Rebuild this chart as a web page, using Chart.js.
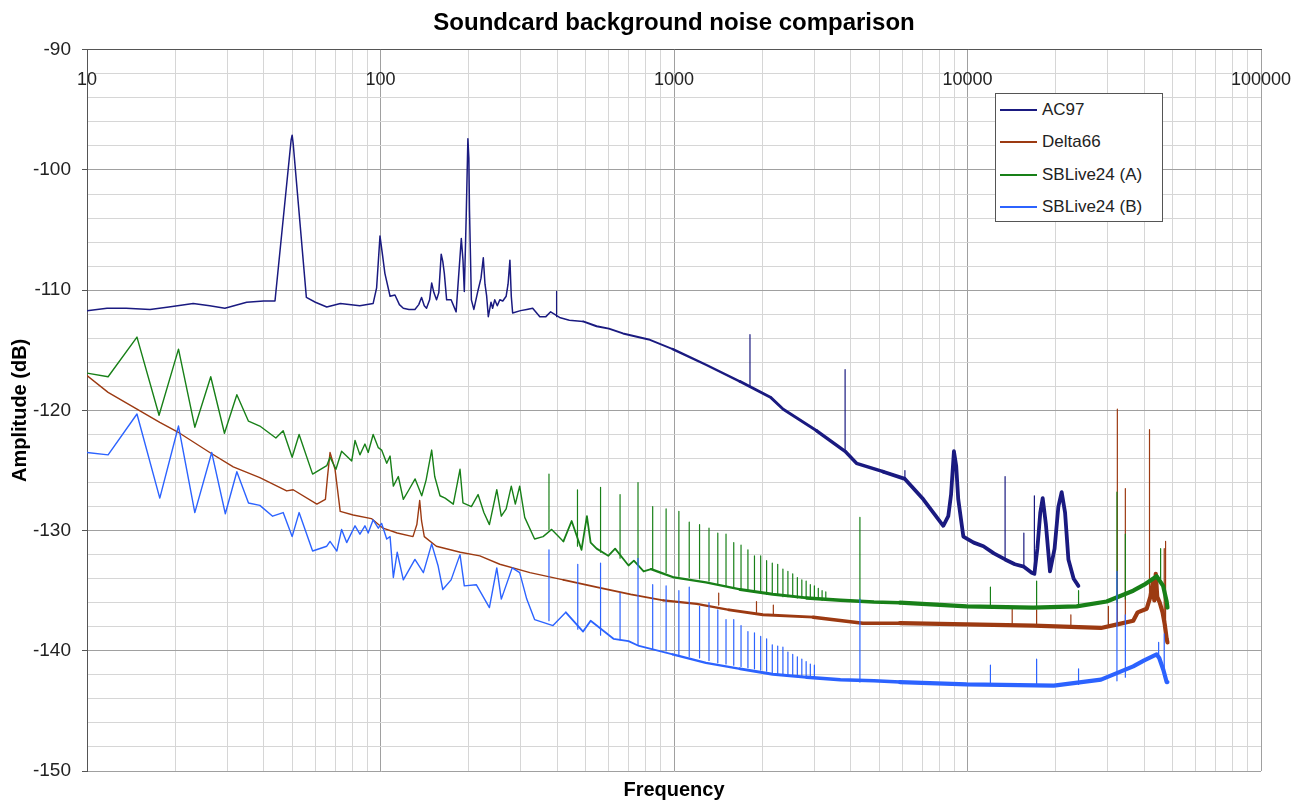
<!DOCTYPE html>
<html>
<head>
<meta charset="utf-8">
<title>Soundcard background noise comparison</title>
<script src="https://cdn.jsdelivr.net/npm/chart.js@4.4.1/dist/chart.umd.min.js"></script>
<style>
  body { margin: 0; background: #fff; }
  #wrap { position: relative; width: 1306px; height: 802px; }
  #legend {
    position: absolute; left: 995px; top: 93px; width: 168px; height: 129px;
    box-sizing: border-box; border: 1px solid #555; background: #fff;
    font: 17px 'Liberation Sans', Arial, sans-serif; color: #222;
  }
  .item { position: absolute; left: 0; height: 20px; line-height: 20px; white-space: nowrap; }
  .swatch { position: absolute; left: 4px; top: 9px; width: 37px; height: 2px; }
  .text { position: absolute; left: 46px; top: 0; }
</style>
</head>
<body>
<div id="wrap">
  <canvas id="chart" width="1306" height="802"></canvas>
  <div id="legend"></div>
</div>
<script>
'use strict';

// axis ticks
const X_GRID = [10, 20, 30, 40, 50, 60, 70, 80, 90,
  100, 200, 300, 400, 500, 600, 700, 800, 900,
  1000, 2000, 3000, 4000, 5000, 6000, 7000, 8000, 9000,
  10000, 20000, 30000, 40000, 50000, 60000, 70000, 80000, 90000, 100000];
const X_LABELS = [10, 100, 1000, 10000, 100000];
const Y_LABELS = [-150, -140, -130, -120, -110, -100, -90];

const SERIES_NAMES = ['AC97', 'Delta66', 'SBLive24 (A)', 'SBLive24 (B)'];

// [frequency Hz, amplitude dB]
const AC97 = [
  [10, -111.7], [11.7, -111.5], [13.6, -111.5], [16.4, -111.6], [19, -111.4], [23, -111.1],
  [26.2, -111.3], [29.5, -111.5], [35, -111.0], [40, -110.9], [43.7, -110.9], [49.6, -97.5],
  [50, -97.1], [50.4, -97.8], [55.9, -110.6], [60, -111.0], [65.6, -111.4], [73, -111.1],
  [85, -111.3], [94.4, -111.1], [97, -109.8], [99.6, -105.5], [101.5, -107.0], [103.5, -108.6],
  [107.8, -110.5], [112, -110.4], [116, -111.2], [119.6, -111.5], [125, -111.6], [131, -111.6],
  [135, -111.2], [138, -110.6], [141, -111.3], [143.5, -111.5], [147, -110.8], [149.4, -109.4],
  [152, -110.2], [155.2, -110.8], [158, -110.2], [161, -107.0], [163, -107.6], [165, -108.6],
  [168, -110.8], [174, -110.8], [181, -111.8], [185, -108.5], [188.5, -105.7], [191, -107.5],
  [193, -110.1], [196, -103.6], [198.5, -97.4], [200, -99.0], [201, -103.3], [204, -110.8],
  [208, -111.6], [215, -110.0], [220, -109.0], [224, -107.3], [227, -109.5], [230, -110.5],
  [233, -112.2], [238, -111.0], [241, -111.5], [245, -110.8], [250, -111.3], [255, -110.8],
  [261, -110.9], [268, -110.5], [272, -109.5], [276, -107.5], [279, -110.5], [282, -111.9],
  [300, -111.7], [315, -111.6], [330, -111.5], [349, -112.2], [366, -112.2], [380, -111.8],
  [410, -112.3], [440, -112.5], [490, -112.6], [545, -113.0], [600, -113.2], [670, -113.6],
  [820, -114.1], [990, -114.9], [1285, -116.2], [1680, -117.6], [2130, -118.9], [2356, -119.9],
  [3063, -121.7], [3828, -123.4], [4186, -124.4], [5162, -125.1], [6120, -125.7], [7070, -127.4],
  [8270, -129.6], [8600, -128.8], [8790, -127.0], [8990, -123.4], [9150, -124.6], [9300, -127.4],
  [9680, -130.5], [10500, -131.0], [11330, -131.3], [12300, -131.9], [13430, -132.4], [14500, -132.8],
  [15560, -133.0], [16550, -133.5], [16900, -133.6], [17300, -131.5], [17700, -128.5], [18040, -127.3],
  [18500, -129.5], [19100, -133.4], [19800, -131.5], [20400, -128.0], [20930, -126.8], [21500, -128.5],
  [22070, -132.4], [23000, -134.0], [23870, -134.6]
];

const DELTA66 = [
  [10, -117.1], [11.8, -118.5], [14.8, -119.9], [17.7, -121.0], [20.7, -121.9], [26.2, -123.5],
  [31.5, -124.7], [38.8, -125.6], [47.9, -126.7], [50.4, -126.6], [60.7, -127.8], [64.9, -127.4],
  [66, -125.5], [67.3, -123.5], [70, -124.9], [72.9, -128.4], [80.7, -128.7], [93.1, -129.0],
  [102, -129.8], [114, -130.2], [129, -130.5], [133, -129.5], [136, -127.5], [138, -129.2],
  [141, -130.5], [155, -131.3], [187, -131.8], [218, -132.1], [255, -132.8], [323, -133.5],
  [420, -134.1], [545, -134.7], [712, -135.3], [920, -135.8], [1195, -136.1], [1540, -136.6],
  [2010, -137.0], [2980, -137.2], [4400, -137.7], [5890, -137.7], [9930, -137.8], [16750, -137.9],
  [28500, -138.1], [32400, -137.8], [36700, -137.5], [38000, -136.8], [40800, -136.5], [42000, -135.5],
  [42800, -134.3], [43300, -135.8], [43800, -133.6], [44300, -135.5], [45200, -136.0], [46200, -136.8],
  [47000, -137.8], [47700, -139.0], [48000, -139.3]
];

const SBLIVE_A = [
  [10, -116.9], [11.8, -117.2], [14.8, -113.9], [17.6, -120.4], [20.5, -114.9], [23.3, -121.4],
  [26.4, -117.2], [29.4, -121.9], [32.4, -118.7], [35.5, -120.9], [38.8, -121.3], [44.0, -122.3],
  [46.6, -121.7], [50.0, -123.9], [52.8, -122.0], [58.7, -125.3], [65.6, -124.6], [67.3, -123.9],
  [70.5, -124.9], [73.7, -123.4], [79.8, -124.2], [81.9, -122.5], [85.1, -123.7], [88.5, -122.8],
  [90.8, -123.5], [94.4, -122.0], [98.3, -123.1], [100.9, -123.3], [105, -124.4], [107.8, -123.8],
  [110.6, -126.3], [115, -125.5], [119.6, -127.4], [125, -126.6], [131.2, -125.7], [138.2, -127.1],
  [143, -125.8], [149.4, -123.3], [153, -125.5], [159.5, -127.1], [166, -127.3], [177, -127.8],
  [186.6, -124.9], [191, -127.7], [204, -128.0], [215, -127.0], [225, -128.5], [235, -129.5],
  [249, -126.6], [258, -128.8], [268, -128.2], [279, -126.3], [288, -127.8], [298, -126.3],
  [310, -128.9], [335, -130.7], [358, -130.5], [383, -129.9], [420, -130.9], [448, -129.2],
  [484, -131.6], [505, -128.8], [520, -131.0], [545, -131.5], [597, -132.1], [630, -131.5],
  [700, -132.9], [730, -132.5], [788, -133.4], [835, -133.2], [900, -133.5], [1000, -133.9],
  [1285, -134.3], [1680, -134.9], [2170, -135.3], [2830, -135.6], [3690, -135.8], [4800, -135.95],
  [5890, -136.0], [9930, -136.3], [16750, -136.4], [23550, -136.3], [29800, -135.9], [36700, -135.0],
  [40000, -134.5], [44100, -133.8], [46400, -134.6], [47700, -135.9], [48000, -136.4]
];

const SBLIVE_B = [
  [10, -123.5], [11.8, -123.7], [14.8, -120.3], [17.7, -127.3], [20.5, -121.3], [23.3, -128.5],
  [26.6, -123.5], [29.6, -128.6], [32.4, -125.1], [35.5, -127.7], [38.8, -127.9], [42.9, -128.8],
  [46.6, -128.5], [50.0, -130.5], [52.8, -128.5], [58.7, -131.7], [65.6, -131.3], [67.3, -130.9],
  [71, -131.7], [73.7, -129.9], [76.7, -131.0], [81.9, -129.6], [85.1, -130.3], [88.5, -129.6],
  [90.8, -130.2], [94.4, -129.1], [98.3, -129.8], [100.9, -129.4], [105, -130.7], [107.8, -130.5],
  [110.6, -133.9], [114, -131.8], [119.6, -134.1], [131, -132.4], [140, -133.5], [149.4, -131.1],
  [157, -132.9], [163, -134.9], [174, -134.1], [186.6, -132.0], [193, -134.6], [212, -134.5],
  [235, -136.4], [249, -133.1], [258, -135.7], [281, -133.1], [298, -133.5], [315, -135.7],
  [335, -137.4], [387, -137.9], [428, -136.8], [490, -138.4], [520, -137.5], [622, -139.0],
  [700, -139.2], [760, -139.6], [990, -140.3], [1285, -141.0], [1680, -141.5], [2170, -141.95],
  [2830, -142.2], [3690, -142.4], [4800, -142.5], [5890, -142.6], [9930, -142.8], [19700, -142.9],
  [28500, -142.4], [36700, -141.3], [40000, -140.8], [44100, -140.3], [45000, -140.6], [46500, -141.6],
  [47700, -142.6], [48000, -142.6]
];

// narrow spikes: [frequency Hz, floor dB, peak dB]
const AC97_SPIKES = [
  [398, -112.2, -110.1], [1815, -118.0, -113.7], [3828, -123.4, -116.6], [6120, -125.7, -125.0],
  [13430, -132.4, -125.5], [15560, -133.0, -130.2], [16900, -133.6, -127.1]
];

const DELTA66_SPIKES = [
  [1420, -136.2, -135.2], [1910, -136.8, -135.9], [2180, -137.0, -136.2], [14200, -137.9, -136.5],
  [17200, -137.9, -136.6], [22500, -137.9, -137.0], [30200, -138.0, -136.3], [32400, -137.8, -119.9],
  [34500, -137.7, -126.5], [41700, -135.5, -121.6], [46800, -137.2, -131.5], [47300, -137.6, -130.9]
];

const SBLIVE_A_SPIKES = [
  [375, -129.9, -125.3], [469, -131.3, -126.6], [562, -131.8, -126.4], [655, -132.3, -127.0],
  [754, -132.8, -126.0], [846, -133.2, -128.0], [940, -133.5, -128.2], [1039, -133.8, -128.4],
  [1127, -133.9, -129.3], [1222, -134.0, -129.5], [1316, -134.2, -129.8], [1410, -134.4, -130.2],
  [1504, -134.6, -130.3], [1598, -134.8, -131.0], [1692, -134.9, -131.2], [1786, -135.0, -131.6],
  [1880, -135.1, -132.1], [1974, -135.2, -132.1], [2068, -135.3, -132.5], [2162, -135.3, -132.7],
  [2256, -135.4, -132.8], [2350, -135.5, -133.2], [2444, -135.5, -133.4], [2538, -135.5, -133.6],
  [2632, -135.6, -133.9], [2726, -135.6, -134.1], [2820, -135.6, -134.2], [2914, -135.7, -134.5],
  [3008, -135.7, -134.6], [3102, -135.7, -134.8], [3196, -135.8, -135.0], [3290, -135.8, -135.1],
  [4300, -135.9, -128.9], [11970, -136.3, -134.7], [17200, -136.4, -134.2], [23900, -136.3, -135.0],
  [32300, -136.0, -126.8], [34500, -135.7, -130.3], [45500, -134.0, -131.5]
];

const SBLIVE_B_SPIKES = [
  [375, -137.5, -131.6], [470, -138.2, -132.8], [562, -138.7, -132.7], [655, -139.1, -135.2],
  [754, -139.5, -132.3], [846, -139.8, -134.5], [940, -140.0, -134.6], [1039, -140.3, -135.0],
  [1127, -140.5, -134.7], [1222, -140.6, -136.3], [1316, -140.8, -136.0], [1410, -141.0, -136.6],
  [1504, -141.1, -137.4], [1598, -141.2, -137.4], [1692, -141.3, -137.9], [1786, -141.4, -138.4],
  [1880, -141.5, -138.5], [1974, -141.6, -138.8], [2068, -141.7, -139.0], [2162, -141.8, -139.5],
  [2256, -141.9, -139.6], [2350, -142.0, -139.7], [2444, -142.0, -140.1], [2538, -142.1, -140.3],
  [2632, -142.1, -140.5], [2726, -142.2, -140.7], [2820, -142.2, -140.9], [2914, -142.3, -141.1],
  [3008, -142.3, -141.2], [4300, -142.6, -135.7], [11970, -142.8, -141.2], [17200, -142.9, -140.7],
  [23900, -142.8, -141.5], [32300, -142.5, -133.4], [34500, -142.2, -137.0], [44800, -140.5, -139.3],
  [46800, -141.5, -138.6]
];

// styling
const COLORS = ['#1a1a80', '#9c3a12', '#188018', '#2c63ff'];
const MAJOR_GRID = '#a0a0a0';
const MINOR_GRID = '#d6d6d6';
const AXIS_LINE = '#555';
// line width grows where the measured noise gets dense
const WIDTH_AC97 = [[0, 1.5], [450, 1.9], [900, 2.4], [1600, 2.9], [3000, 3.4], [5000, 3.8]];
const WIDTH_FLOOR = [[0, 1.4], [400, 1.8], [800, 2.3], [1400, 2.9], [2500, 3.5], [5000, 4.2]];

Chart.defaults.font.family = "'Liberation Sans', Arial, sans-serif";

function widthBy(stops) {
  return ctx => {
    const f = ctx.p0.parsed.x;
    let w = stops[0][1];
    for (const [from, width] of stops) {
      if (f >= from) w = width;
    }
    return w;
  };
}

const toPoints = rows => rows.map(([x, y]) => ({x, y}));
const toSpikes = rows => rows.flatMap(([x, lo, hi]) => [{x, y: lo}, {x, y: hi}, {x, y: null}]);

function mainSet(i, rows, stops, order) {
  return {
    label: SERIES_NAMES[i],
    data: toPoints(rows),
    borderColor: COLORS[i],
    borderWidth: 1.5,
    segment: { borderWidth: widthBy(stops) },
    order
  };
}

function spikeSet(i, rows, order) {
  return {
    label: '',
    data: toSpikes(rows),
    borderColor: COLORS[i],
    borderWidth: 1.2,
    spanGaps: false,
    order
  };
}

const datasets = [
  mainSet(0, AC97, WIDTH_AC97, 3), spikeSet(0, AC97_SPIKES, 3),
  mainSet(1, DELTA66, WIDTH_FLOOR, 2), spikeSet(1, DELTA66_SPIKES, 2),
  mainSet(2, SBLIVE_A, WIDTH_FLOOR, 1), spikeSet(2, SBLIVE_A_SPIKES, 1),
  mainSet(3, SBLIVE_B, WIDTH_FLOOR, 0), spikeSet(3, SBLIVE_B_SPIKES, 0)
];

const chart = new Chart(document.getElementById('chart'), {
  type: 'line',
  data: { datasets },
  options: {
    responsive: false,
    animation: false,
    events: [],
    layout: { padding: { left: 0, right: 45, top: 0, bottom: 0 } },
    elements: {
      point: { radius: 0 },
      line: { tension: 0, borderCapStyle: 'round', borderJoinStyle: 'round' }
    },
    plugins: {
      legend: { display: false },
      tooltip: { enabled: false },
      title: {
        display: true,
        text: 'Soundcard background noise comparison',
        fullSize: false,
        color: '#000',
        font: { size: 24, weight: 'bold' },
        padding: { top: 9, bottom: 12 }
      }
    },
    scales: {
      x: {
        type: 'logarithmic',
        position: 'top',
        min: 10,
        max: 100000,
        afterBuildTicks: scale => { scale.ticks = X_GRID.map(value => ({ value })); },
        afterFit: scale => {
          scale.height = 0;
          scale.paddingLeft = 0;
          scale.paddingRight = 0;
        },
        grid: {
          drawTicks: false,
          color: ctx => (ctx.tick && X_LABELS.includes(ctx.tick.value)) ? MAJOR_GRID : MINOR_GRID
        },
        border: { color: AXIS_LINE },
        ticks: {
          mirror: true,
          padding: 19,
          autoSkip: false,
          maxRotation: 0,
          color: '#222',
          font: { size: 18 },
          callback: v => X_LABELS.includes(v) ? String(v) : ''
        }
      },
      xTitle: {
        type: 'logarithmic',
        position: 'bottom',
        min: 10,
        max: 100000,
        afterFit: scale => { scale.height = 31; },
        grid: { display: false },
        border: { display: false },
        ticks: { display: false },
        title: {
          display: true,
          text: 'Frequency',
          color: '#000',
          font: { size: 20, weight: 'bold' },
          padding: { top: 0, bottom: 0 }
        }
      },
      y: {
        min: -150,
        max: -90,
        afterFit: scale => { scale.width = 87; },
        grid: {
          tickLength: 5,
          color: ctx => (ctx.tick && Y_LABELS.includes(ctx.tick.value)) ? MAJOR_GRID : MINOR_GRID,
          tickColor: ctx => (ctx.tick && Y_LABELS.includes(ctx.tick.value)) ? AXIS_LINE : 'rgba(0,0,0,0)'
        },
        border: { color: AXIS_LINE },
        ticks: {
          stepSize: 2,
          autoSkip: false,
          padding: 11,
          color: '#222',
          font: { size: 19 },
          callback: v => Y_LABELS.includes(v) ? String(v) : ''
        },
        title: {
          display: true,
          text: 'Amplitude (dB)',
          color: '#000',
          font: { size: 20, weight: 'bold' },
          padding: { top: 8, bottom: 0 }
        }
      }
    }
  }
});

// legend box inside the plot, built from the chart's own datasets
const legend = document.getElementById('legend');
chart.data.datasets.filter(d => d.label).forEach((d, i) => {
  const item = document.createElement('div');
  item.className = 'item';
  item.style.top = (6 + i * 32.4) + 'px';
  item.innerHTML = '<span class="swatch" style="background:' + d.borderColor + '"></span>' +
    '<span class="text">' + d.label + '</span>';
  legend.appendChild(item);
});
</script>
</body>
</html>
